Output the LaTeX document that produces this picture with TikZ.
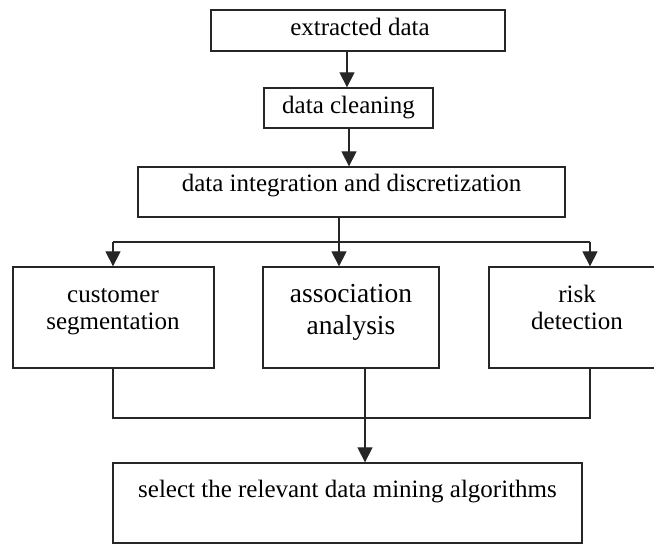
\documentclass[tikz,border=0pt]{standalone}
\usepackage{fontspec}
\setmainfont{Liberation Serif}
\usetikzlibrary{arrows.meta}
\begin{document}
\begin{tikzpicture}[x=1pt,y=-1pt,
  box/.style={draw=black!85,line width=1.3pt,rectangle,inner sep=0pt},
  txt/.style={font=\fontsize{25}{27.5}\selectfont,align=center,anchor=base,inner sep=0pt},
  bigtxt/.style={font=\fontsize{27.5}{32}\selectfont,align=center,anchor=base,inner sep=0pt},
  line/.style={line width=1.3pt,draw=black!85},
  arr/.style={line width=1.3pt,draw=black!85,-{Triangle[length=15pt,width=15pt]}}]
\useasboundingbox (0,0) rectangle (654,545);
\clip (0,0) rectangle (654,545);
% boxes
\node[box,minimum width=294pt,minimum height=41pt] (E) at (358,30.5) {};
\node[box,minimum width=169pt,minimum height=40pt] (C) at (348.5,108) {};
\node[box,minimum width=427pt,minimum height=50pt] (I) at (351.5,192) {};
\node[box,minimum width=201pt,minimum height=101pt] (CS) at (113.5,317.5) {};
\node[box,minimum width=176pt,minimum height=101pt] (AA) at (351,317.5) {};
\node[box,minimum width=200pt,minimum height=101pt] (RD) at (589,317.5) {};
\node[box,minimum width=469pt,minimum height=80pt] (S) at (347.5,503) {};
% texts
\node[txt] (tE) at (360,36) {extracted data};
\node[txt] (tC) at (348.5,114) {data cleaning};
\node[txt] (tI) at (351.5,192) {data integration and discretization};
\node[txt] (tCS) at (113,330) {customer\\segmentation};
\node[bigtxt] (tAA) at (351,335) {association\\analysis};
\node[txt] (tRD) at (577,330) {risk\\detection};
\node[txt] (tS) at (347.5,498) {select the relevant data mining algorithms};
% helper coordinates
\coordinate (x1) at (347,0);
\coordinate (x2) at (349,0);
\coordinate (xm) at (339,0);
\coordinate (xl) at (113,0);
\coordinate (xr) at (590,0);
\coordinate (xa) at (365,0);
\coordinate (ytop) at (0,242);
\coordinate (ybot) at (0,418);
\coordinate (Jt) at (xm |- ytop);
\coordinate (Lt) at (xl |- ytop);
\coordinate (Rt) at (xr |- ytop);
\coordinate (Lb) at (xl |- ybot);
\coordinate (Rb) at (xr |- ybot);
% connectors
\draw[arr] (E.south -| x1) -- (C.north -| x1);
\draw[arr] (C.south -| x2) -- (I.north -| x2);
\draw[line] (I.south -| xm) -- (Jt);
\draw[line] (Lt) -- (Rt);
\draw[arr] (Lt) -- (CS.north -| xl);
\draw[arr] (Jt) -- (AA.north -| xm);
\draw[arr] (Rt) -- (RD.north -| xr);
\draw[line] (CS.south -| xl) -- (Lb) -- (Rb) -- (RD.south -| xr);
\draw[arr] (AA.south -| xa) -- (S.north -| xa);
\end{tikzpicture}
\end{document}
